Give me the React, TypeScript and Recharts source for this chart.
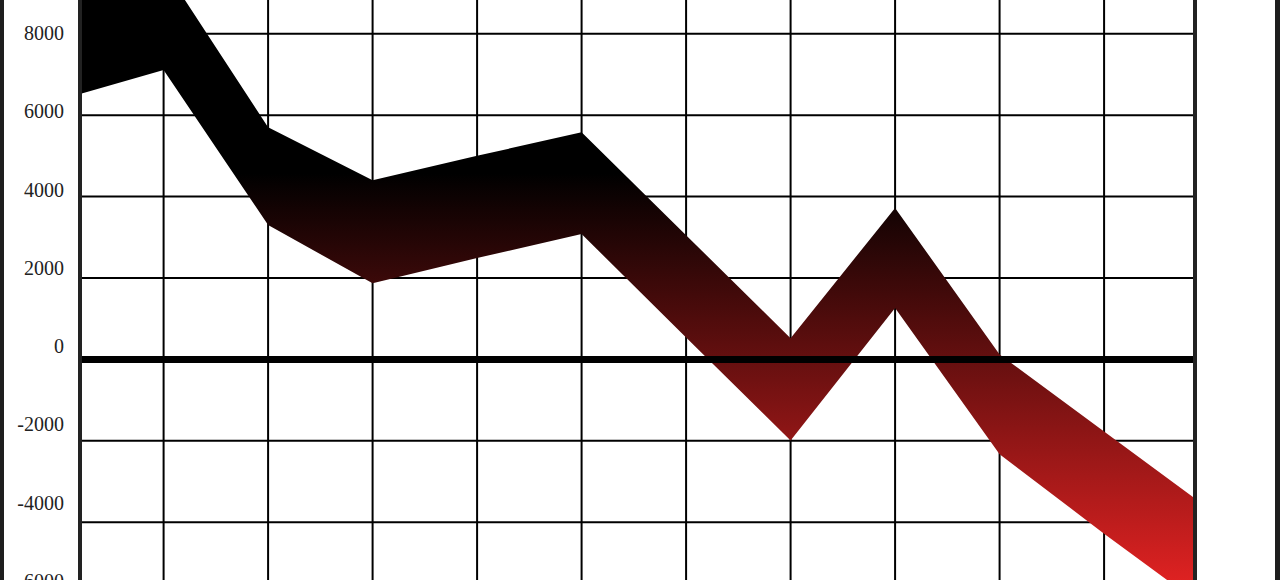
import React from 'react';
import {
  ComposedChart,
  Area,
  XAxis,
  YAxis,
  CartesianGrid,
  ReferenceLine,
} from 'recharts';

// column index along the x axis (0 and 11 sit just outside the visible window)
const periods = [0, 1, 2, 3, 4, 5, 6, 7, 8, 9, 10, 11];
const upperValues = [8900, 9630, 5700, 4400, 5000, 5580, 3050, 520, 3720, 120, -1770, -3660];
const lowerValues = [6370, 7110, 3300, 1870, 2490, 3080, 540, -1990, 1260, -2330, -4280, -6170];
const labelTicks = [-6000, -4000, -2000, 0, 2000, 4000, 6000, 8000];
const gridTicks = [-6000, -4000, -2000, 0, 2000, 4000, 6000, 8000];
const columnTicks = [1, 2, 3, 4, 5, 6, 7, 8, 9, 10];

const data = periods.map((p, i) => ({
  period: p,
  band: [lowerValues[i], upperValues[i]],
}));

export default function App() {
  return (
    <div
      style={{
        position: 'fixed',
        left: 0,
        top: 0,
        width: 1280,
        height: 580,
        overflow: 'hidden',
        background: '#fff',
      }}
    >
      <div style={{ position: 'absolute', left: 0, top: -7 }}>
        <ComposedChart
          width={1280}
          height={631}
          data={data}
          margin={{ top: 0, right: 0, bottom: 0, left: 0 }}
        >
          <defs>
            <linearGradient id="bandFill" x1="0" y1="0" x2="0" y2="1">
              <stop offset="0.32" stopColor="#000000" />
              <stop offset="1" stopColor="#ee2424" />
            </linearGradient>
          </defs>
          <XAxis
            dataKey="period"
            type="number"
            domain={[0.2, 10.87]}
            ticks={columnTicks}
            allowDataOverflow
            hide
          />
          {/* labels sit on their own scale, a little off the grid, as in the source image */}
          <YAxis
            yAxisId="labels"
            type="number"
            domain={[-7100, 9020]}
            ticks={labelTicks}
            allowDataOverflow
            interval={0}
            width={80}
            tickSize={0}
            tickMargin={16}
            tickLine={false}
            axisLine={{ stroke: '#222', strokeWidth: 4 }}
            tick={{ fill: '#222', fontSize: 20, fontFamily: '"Liberation Serif", serif' }}
          />
          <YAxis
            yAxisId={0}
            type="number"
            domain={[-6500, 9000]}
            ticks={gridTicks}
            width={0}
            allowDataOverflow
            hide
          />
          <YAxis
            yAxisId="right"
            orientation="right"
            width={85}
            tick={false}
            tickLine={false}
            axisLine={{ stroke: '#222', strokeWidth: 4 }}
          />
          <CartesianGrid stroke="#000" strokeWidth={2} />
          <Area
            type="linear"
            dataKey="band"
            stroke="none"
            fill="url(#bandFill)"
            fillOpacity={1}
            isAnimationActive={false}
          />
          <ReferenceLine y={0} stroke="#000" strokeWidth={7} />
        </ComposedChart>
      </div>
      <div style={{ position: 'absolute', left: 0, top: 0, width: 4, height: 580, background: '#1e1e1e' }} />
      <div style={{ position: 'absolute', right: 0, top: 0, width: 5, height: 580, background: '#1e1e1e' }} />
    </div>
  );
}
